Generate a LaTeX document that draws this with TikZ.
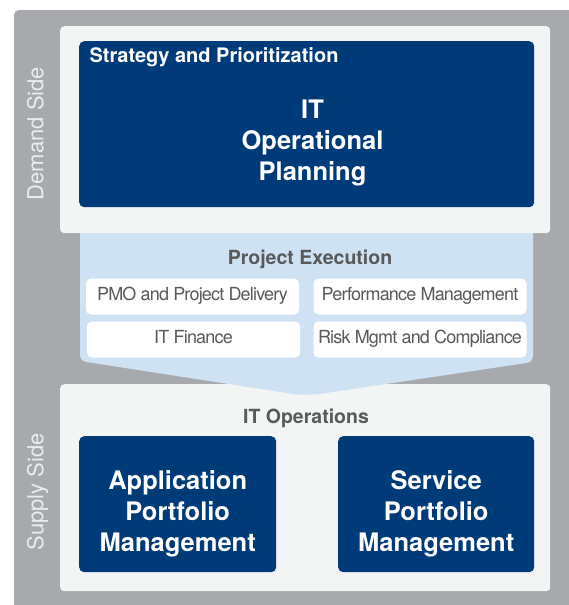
\documentclass[tikz,border=0pt]{standalone}
\usepackage{fontspec}
\setmainfont{TeX Gyre Heros}
\newfontfamily\taskfont[LetterSpace=-4.5]{TeX Gyre Heros}
\usetikzlibrary{positioning}

\definecolor{sidegrey}{HTML}{A7A9AC}
\definecolor{panelgrey}{HTML}{F3F5F5}
\definecolor{itblue}{HTML}{003B79}
\definecolor{funnelblue}{HTML}{CFE2F3}
\definecolor{labelgrey}{HTML}{58595B}
\definecolor{sidetext}{HTML}{EBECED}

\tikzset{
    panel/.style={fill=panelgrey, rounded corners=4pt, anchor=north west, inner sep=0pt,
        minimum width=490pt, minimum height=207pt},
    bluebox/.style={fill=itblue, rounded corners=5pt, anchor=north west, inner sep=0pt},
    boxtext/.style={text=white, align=center, font=\bfseries\fontsize{25.5}{31}\selectfont},
    taskbox/.style={fill=white, rounded corners=5pt, text=labelgrey, inner sep=0pt,
        font=\taskfont\fontsize{18}{18}\selectfont, text height=0.72em, text depth=0pt,
        minimum width=213pt, minimum height=36pt},
    heading/.style={text=labelgrey, anchor=base, font=\bfseries\fontsize{19.5}{22}\selectfont},
    sidelabel/.style={text=sidetext, rotate=90, anchor=base, font=\fontsize{22}{24}\selectfont}
}

\begin{document}
\begin{tikzpicture}[x=1pt, y=-1pt]
    \useasboundingbox (0,0) rectangle (569,605);
    % Grey background
    \fill[sidegrey, rounded corners=5pt] (14,10) rectangle (575,612);
    \node[sidelabel] (demandside) at (43.3,133.5) {Demand Side};
    \node[sidelabel] (supplyside) at (43.3,492) {Supply Side};

    % Supply side panel
    \node[panel] (supply) at (60,384) {};
    \node[heading] (itops) at (306,423) {IT Operations};
    \node[bluebox, minimum width=197pt, minimum height=136pt] (appbox) at (79,436) {};
    \node[boxtext] (apptext) at ([yshift=-10pt]appbox.center) {Application\\Portfolio\\Management};
    \node[bluebox, minimum width=196pt, minimum height=136pt] (servicebox) at (338,436) {};
    \node[boxtext] (servicetext) at ([yshift=-10pt]servicebox.center) {Service\\Portfolio\\Management};

    % Funnel between the two sides
    \fill[funnelblue] (80,222) [rounded corners=6pt]-- (80,361) [rounded corners=14pt]-- (306,396)
        [rounded corners=6pt]-- (533,362) [sharp corners]-- (533,222) -- cycle;
    \node[heading] (projexec) at (310,264) {Project Execution};
    \foreach \name/\x/\y/\task in {pmo/192.5/296.5/PMO and Project Delivery,
            perf/420/296.5/Performance Management,
            finance/193.5/339.5/IT Finance,
            risk/420/339.5/Risk Mgmt and Compliance} {
        \node[taskbox] (\name) at (\x,\y) {\task};
    }

    % Demand side panel
    \node[panel] (demand) at (60,26) {};
    \node[bluebox, minimum width=455pt, minimum height=166pt] (planbox) at (79,41) {};
    \node[text=white, anchor=base west, font=\bfseries\fontsize{20}{22}\selectfont] (strategy)
        at (86,62.5) {Strategy and Prioritization};
    \node[boxtext] (plantext) at (312.5,143) {IT\\Operational\\Planning};
\end{tikzpicture}
\end{document}
